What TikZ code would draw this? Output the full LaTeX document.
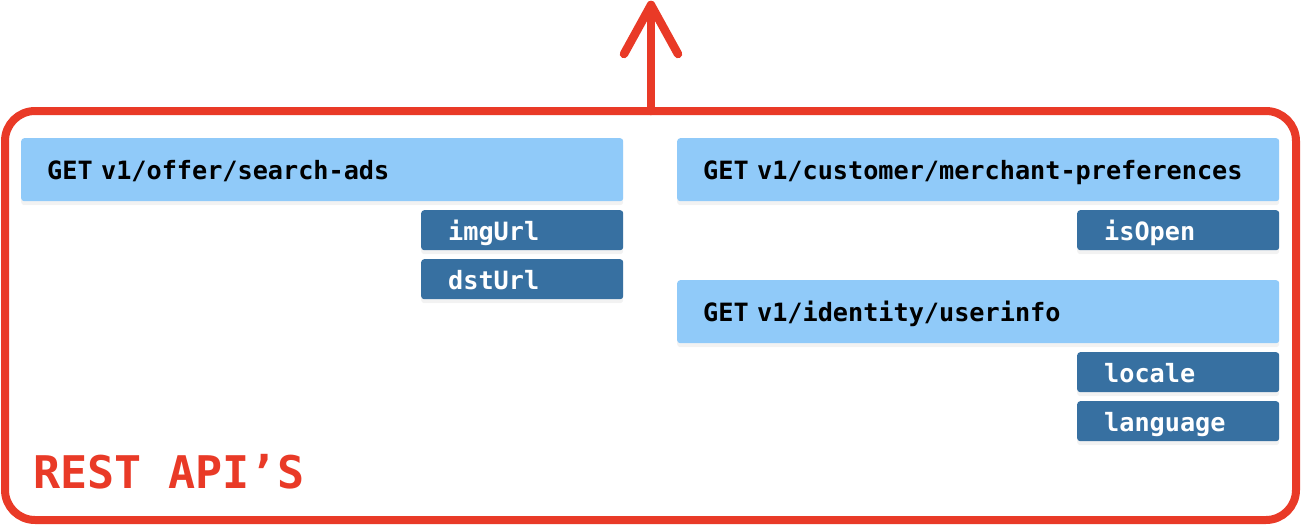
\documentclass[tikz,border=0pt]{standalone}
\usepackage{fontspec}
\newfontfamily\apimono{DejaVu Sans Mono}
\usetikzlibrary{shadows}
\definecolor{apired}{HTML}{E93A27}
\definecolor{lightbox}{HTML}{90CAF9}
\definecolor{darkbox}{HTML}{3770A1}
\tikzset{
  endpoint/.style={fill=lightbox, rounded corners=3pt, anchor=north west,
    minimum width=602pt, minimum height=63pt, inner xsep=26pt, inner ysep=0pt,
    text width=550pt, align=left, text height=20pt, text depth=0pt,
    font=\apimono\bfseries\fontsize{25.2}{30}\selectfont, text=black,
    drop shadow={opacity=0.10, shadow xshift=0pt, shadow yshift=-4pt}},
  field/.style={fill=darkbox, rounded corners=3pt, anchor=north west,
    minimum width=202pt, minimum height=40pt, inner xsep=27pt, inner ysep=0pt,
    text width=148pt, align=left, text height=20pt, text depth=0pt,
    font=\apimono\bfseries\fontsize{25.2}{30}\selectfont, text=white,
    drop shadow={opacity=0.10, shadow xshift=0pt, shadow yshift=-4pt}},
  frame/.style={draw=apired, line width=8pt, rounded corners=30pt},
  redline/.style={draw=apired, line width=8.5pt, line cap=round, line join=round}
}
\begin{document}
\begin{tikzpicture}[x=1pt, y=-1pt]
\useasboundingbox (0,0) rectangle (1302,525);
\node[frame, minimum width=1291pt, minimum height=409pt, inner sep=0pt] (api) at (650.5,315.5) {};
\coordinate (tip) at (651,5);
\draw[redline] (651,111) -- (tip);
\draw[redline] (624,54) -- (tip) -- (678,54);

\node[endpoint] (search) at (21,138) {GET v1/offer/search-ads};
\node[field] (img) at (421,210) {imgUrl};
\node[field] (dst) at (421,259) {dstUrl};

\node[endpoint] (merchant) at (677,138) {GET v1/customer/merchant-preferences};
\node[field] (open) at (1077,210) {isOpen};

\node[endpoint] (user) at (677,280) {GET v1/identity/userinfo};
\node[field] (locale) at (1077,352) {locale};
\node[field] (lang) at (1077,401) {language};

\node[anchor=base west, inner sep=0pt, text=apired,
  font=\apimono\bfseries\fontsize{45}{50}\selectfont] (label) at (33,488) {REST API’S};
\end{tikzpicture}
\end{document}
